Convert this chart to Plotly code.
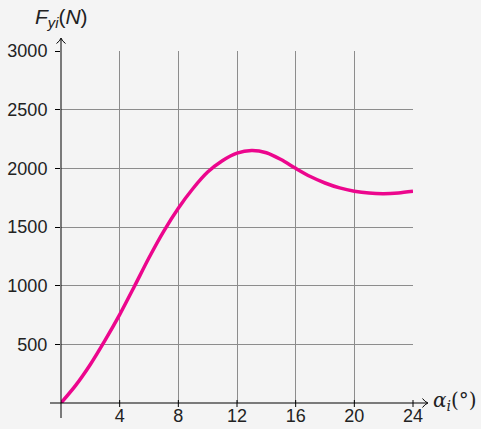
import plotly.graph_objects as go

# data
alpha = [0, 1, 2, 3, 4, 5, 6, 7, 8, 9, 10, 11, 12, 13, 14, 15, 16, 17, 18, 19, 20, 21, 22, 23, 24]
force = [0, 150, 328, 533, 753, 993, 1238, 1463, 1660, 1828, 1968, 2065, 2130, 2152, 2133, 2075, 2000, 1930,
         1875, 1833, 1805, 1789, 1784, 1790, 1804]
x_ticks = [4, 8, 12, 16, 20, 24]
y_ticks = [500, 1000, 1500, 2000, 2500, 3000]

W, H = 481, 429
L, R, T, B = 61, 68, 51, 26
PW, PH = W - L - R, H - T - B


def px(x):
    return (x - L) / PW


def py(y):
    return (H - B - y) / PH


fig = go.Figure()
fig.add_trace(go.Scatter(x=alpha, y=force, mode="lines",
                         line=dict(color="#EC068D", width=3.5, shape="spline", smoothing=0.8),
                         cliponaxis=False, hoverinfo="skip"))

font = dict(family="Liberation Sans, Arial, sans-serif", size=18, color="#222")
fig.update_layout(
    template="none",
    width=W, height=H, margin=dict(l=L, r=R, t=T, b=B, autoexpand=False),
    paper_bgcolor="#f4f4f4", plot_bgcolor="#f4f4f4",
    showlegend=False, font=font,
    xaxis=dict(range=[0, 24], tickvals=x_ticks, ticktext=[str(v) for v in x_ticks], automargin=False,
               showgrid=True, gridcolor="#8c8c8c", gridwidth=1, zeroline=False, showline=False,
               ticks="", tickfont=font, ticklabelstandoff=0),
    yaxis=dict(range=[0, 3000], tickvals=y_ticks, ticktext=[str(v) for v in y_ticks], automargin=False,
               showgrid=True, gridcolor="#8c8c8c", gridwidth=1, zeroline=False, showline=False,
               ticks="outside", ticklen=5, tickcolor="black", tickfont=font, ticklabelstandoff=4),
)

shapes = []
# x tick marks crossing the axis line
for v in x_ticks:
    xp = L + PW * v / 24
    shapes.append(dict(type="line", xref="paper", yref="paper", x0=px(xp), x1=px(xp), y0=py(400), y1=py(407),
                       line=dict(color="black", width=1)))
# x axis with arrow
shapes.append(dict(type="line", xref="paper", yref="paper", x0=px(50), x1=px(427), y0=py(403), y1=py(403),
                   line=dict(color="black", width=1)))
shapes.append(dict(type="path", xref="paper", yref="paper",
                   path=f"M {px(422.5)} {py(398.5)} Q {px(425)} {py(402)} {px(428)} {py(403)} "
                        f"Q {px(425)} {py(404)} {px(422.5)} {py(407.5)}",
                   line=dict(color="black", width=1)))
# y axis with arrow
shapes.append(dict(type="line", xref="paper", yref="paper", x0=px(61), x1=px(61), y0=py(418), y1=py(39),
                   line=dict(color="black", width=1)))
shapes.append(dict(type="path", xref="paper", yref="paper",
                   path=f"M {px(56.5)} {py(43.5)} Q {px(60)} {py(41)} {px(61)} {py(38)} "
                        f"Q {px(62)} {py(41)} {px(65.5)} {py(43.5)}",
                   line=dict(color="black", width=1)))
fig.update_layout(shapes=shapes)

fig.add_annotation(xref="paper", yref="paper", x=px(33), y=py(18), xanchor="left", yanchor="middle",
                   text="<i>F</i><sub><i>yi</i></sub>(<i>N</i>)", showarrow=False,
                   font=dict(family="Liberation Sans, Arial, sans-serif", size=21, color="#222"))
fig.add_annotation(xref="paper", yref="paper", x=px(431), y=py(401), xanchor="left", yanchor="middle",
                   text="<i>α</i><sub><i>i</i></sub>(°)", showarrow=False,
                   font=dict(family="DejaVu Serif, serif", size=20, color="#222"))

fig.write_html("out.html")
